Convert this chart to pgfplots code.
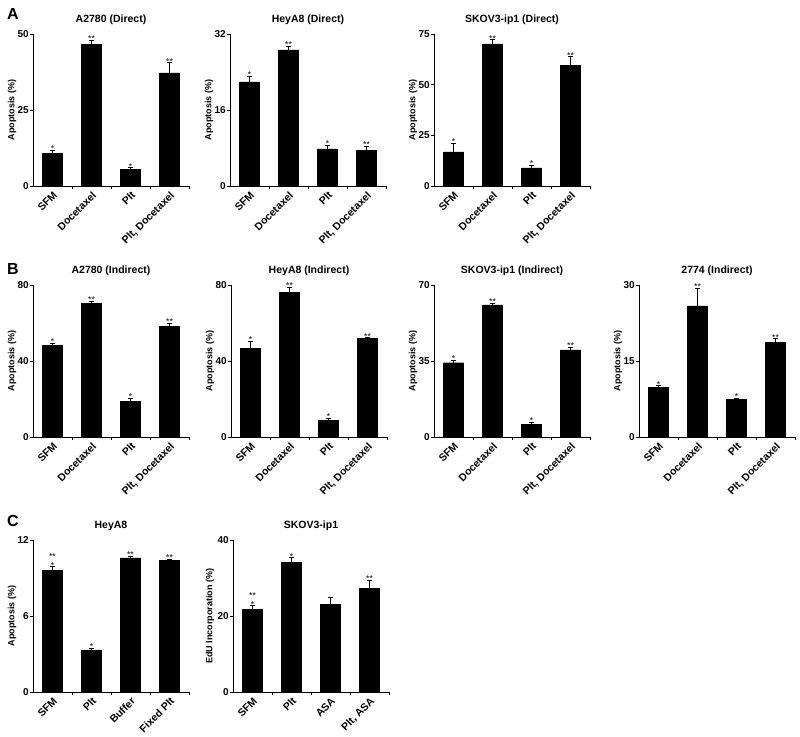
\documentclass[border=0pt]{standalone}
\usepackage{fontspec}
\setmainfont{Liberation Sans}
\usepackage{pgfplots}
\usepackage{pgfplotstable}
\pgfplotsset{compat=1.18}
\newcommand{\xtf}{\bfseries\fontsize{10.5}{11}\selectfont}
\newcommand{\ytf}{\bfseries\fontsize{10}{11}\selectfont}
\newcommand{\ylf}{\bfseries\fontsize{9}{10}\selectfont}
\newcommand{\ttf}{\bfseries\fontsize{10.5}{12}\selectfont}
\newcommand{\stf}{\fontsize{8.5}{8.5}\selectfont}
\newsavebox{\dsbox}
\sbox{\dsbox}{\stf\shortstack{**\\\relax{*}}}
\newcommand{\ds}{\usebox{\dsbox}}
\newcommand{\nos}{}
\pgfplotsset{
  gp/.style={
    scale only axis, width=156pt, height=152pt,
    anchor=south west, clip=false,
    xmin=-0.5, xmax=3.5, ymin=0,
    axis x line*=bottom, axis y line*=left,
    axis line style={line width=0.9pt, black},
    tick align=outside, major tick length=3pt, minor tick length=3pt,
    tick style={line width=0.8pt, black},
    major x tick style={draw=none},
    xtick={0,1,2,3},
    minor xtick={0.5,1.5,2.5,3.5},
    xticklabel style={rotate=45, anchor=north east, font=\xtf, inner sep=1pt},
    yticklabel style={font=\ytf, inner sep=1pt},
    /pgf/number format/assume math mode=true,
    ylabel style={at={(axis description cs:0,0.5)}, anchor=center, yshift=21pt, font=\ylf},
    title style={at={(axis description cs:0.5,1)}, anchor=base, yshift=6pt, font=\ttf},
    ylabel={Apoptosis (\%)},
  },
  bars/.style={ybar, bar width=20pt, bar shift=0pt, fill=black, draw=black,
    error bars/.cd, y dir=plus, y explicit,
    error bar style={black, line width=0.8pt},
    error mark options={rotate=90, mark size=2.5pt, line width=0.8pt, black}},
  stars/.style={draw=none, nodes near coords, point meta=explicit symbolic,
    nodes near coords style={anchor=south, inner sep=0pt, yshift=-1.5pt, font=\stf}},
}
\pgfplotstableread{
x y e s
0 10.65 1.1 *
1 46.7 1.1 **
2 5.5 0.5 *
3 37.2 3.3 **
}\tAa
\pgfplotstableread{
x y e s
0 21.9 1.25 *
1 28.66 0.7 **
2 7.8 0.7 *
3 7.44 1.0 **
}\tAb
\pgfplotstableread{
x y e s
0 16.9 4.1 *
1 70.1 2.0 **
2 8.9 1.2 *
3 59.5 4.3 **
}\tAc
\pgfplotstableread{
x y e s
0 48.4 0.9 *
1 70.4 0.9 **
2 18.9 1.4 *
3 58.1 1.75 **
}\tBa
\pgfplotstableread{
x y e s
0 46.5 3.9 *
1 76.1 2.5 **
2 8.85 1.2 *
3 51.9 0.35 **
}\tBb
\pgfplotstableread{
x y e s
0 34.2 1.1 *
1 60.8 0.9 **
2 5.8 0.8 *
3 40.1 1.1 **
}\tBc
\pgfplotstableread{
x y e s
0 9.8 0.3 *
1 25.9 3.5 **
2 7.4 0.3 *
3 18.7 0.7 **
}\tBd
\pgfplotstableread{
x y e s
0 9.58 0.3 \ds
1 3.33 0.15 *
2 10.58 0.15 **
3 10.37 0.13 **
}\tCa
\pgfplotstableread{
x y e s
0 21.8 0.9 \ds
1 34.1 1.2 *
2 23.1 1.85 \nos
3 27.2 2.3 **
}\tCb
\begin{document}
\begin{tikzpicture}
\path[use as bounding box, fill=white] (0,0) rectangle (800pt,-736pt);
\node[anchor=north west, inner sep=0pt, font=\bfseries\fontsize{16}{16}\selectfont] at (7pt,-8pt) {A};
\node[anchor=north west, inner sep=0pt, font=\bfseries\fontsize{16}{16}\selectfont] at (7pt,-263pt) {B};
\node[anchor=north west, inner sep=0pt, font=\bfseries\fontsize{16}{16}\selectfont] at (7pt,-515pt) {C};
% ---- A ----
\begin{axis}[gp, at={(33pt,-186pt)}, title={A2780 (Direct)}, ymax=50, ytick={0,25,50},
  xticklabels={SFM,Docetaxel,Plt,{Plt, Docetaxel}}]
\addplot[bars] table[x=x,y=y,y error=e]{\tAa};
\addplot[stars] table[x=x,y expr=\thisrow{y}+\thisrow{e},meta=s]{\tAa};
\end{axis}
\begin{axis}[gp, at={(230pt,-186pt)}, title={HeyA8 (Direct)}, ymax=32, ytick={0,16,32},
  xticklabels={SFM,Docetaxel,Plt,{Plt, Docetaxel}}]
\addplot[bars] table[x=x,y=y,y error=e]{\tAb};
\addplot[stars] table[x=x,y expr=\thisrow{y}+\thisrow{e},meta=s]{\tAb};
\end{axis}
\begin{axis}[gp, at={(434pt,-186pt)}, title={SKOV3-ip1 (Direct)}, ymax=75, ytick={0,25,50,75},
  xticklabels={SFM,Docetaxel,Plt,{Plt, Docetaxel}}]
\addplot[bars] table[x=x,y=y,y error=e]{\tAc};
\addplot[stars] table[x=x,y expr=\thisrow{y}+\thisrow{e},meta=s]{\tAc};
\end{axis}
% ---- B ----
\begin{axis}[gp, at={(33pt,-437pt)}, title={A2780 (Indirect)}, ymax=80, ytick={0,40,80},
  xticklabels={SFM,Docetaxel,Plt,{Plt, Docetaxel}}]
\addplot[bars] table[x=x,y=y,y error=e]{\tBa};
\addplot[stars] table[x=x,y expr=\thisrow{y}+\thisrow{e},meta=s]{\tBa};
\end{axis}
\begin{axis}[gp, at={(231pt,-437pt)}, title={HeyA8 (Indirect)}, ymax=80, ytick={0,40,80},
  xticklabels={SFM,Docetaxel,Plt,{Plt, Docetaxel}}]
\addplot[bars] table[x=x,y=y,y error=e]{\tBb};
\addplot[stars] table[x=x,y expr=\thisrow{y}+\thisrow{e},meta=s]{\tBb};
\end{axis}
\begin{axis}[gp, at={(434pt,-437pt)}, title={SKOV3-ip1 (Indirect)}, ymax=70, ytick={0,35,70},
  xticklabels={SFM,Docetaxel,Plt,{Plt, Docetaxel}}]
\addplot[bars] table[x=x,y=y,y error=e]{\tBc};
\addplot[stars] table[x=x,y expr=\thisrow{y}+\thisrow{e},meta=s]{\tBc};
\end{axis}
\begin{axis}[gp, at={(639pt,-437pt)}, title={2774 (Indirect)}, ymax=30, ytick={0,15,30},
  xticklabels={SFM,Docetaxel,Plt,{Plt, Docetaxel}}]
\addplot[bars] table[x=x,y=y,y error=e]{\tBd};
\addplot[stars] table[x=x,y expr=\thisrow{y}+\thisrow{e},meta=s]{\tBd};
\end{axis}
% ---- C ----
\begin{axis}[gp, at={(33pt,-692pt)}, title={HeyA8}, ymax=12, ytick={0,6,12},
  xticklabels={SFM,Plt,Buffer,Fixed Plt}]
\addplot[bars] table[x=x,y=y,y error=e]{\tCa};
\addplot[stars] table[x=x,y expr=\thisrow{y}+\thisrow{e},meta=s]{\tCa};
\end{axis}
\begin{axis}[gp, at={(233pt,-692pt)}, title={SKOV3-ip1}, ymax=40, ytick={0,20,40},
  ylabel={EdU Incorporation (\%)}, ylabel style={yshift=2pt},
  xticklabels={SFM,Plt,ASA,{Plt, ASA}}]
\addplot[bars] table[x=x,y=y,y error=e]{\tCb};
\addplot[stars] table[x=x,y expr=\thisrow{y}+\thisrow{e},meta=s]{\tCb};
\end{axis}
\end{tikzpicture}
\end{document}
